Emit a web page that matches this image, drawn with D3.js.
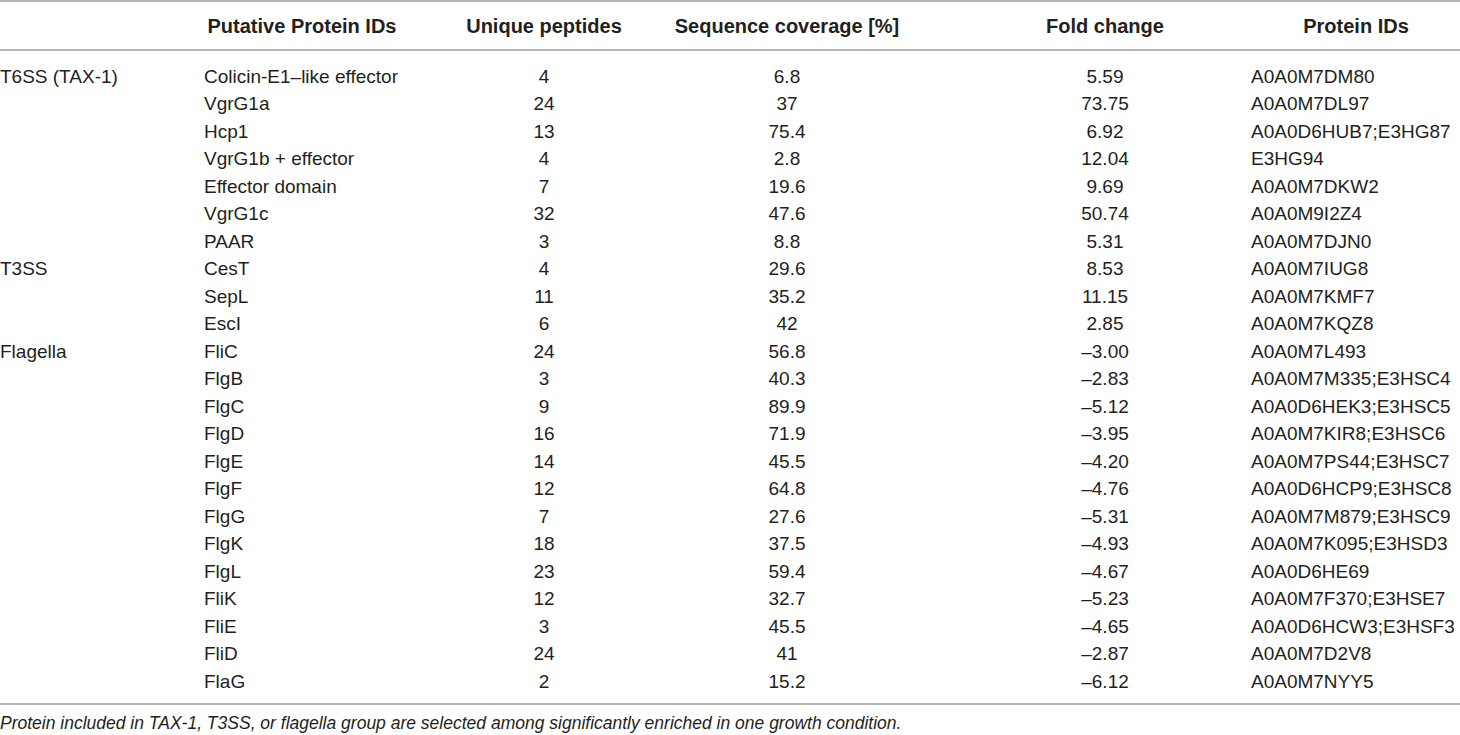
<!DOCTYPE html>
<html>
<head>
<meta charset="utf-8">
<script src="https://cdn.jsdelivr.net/npm/d3@7/dist/d3.min.js"></script>
<style>
  html, body { margin: 0; padding: 0; background: #fff; }
  svg { display: block; }
</style>
</head>
<body>
<svg id="table"></svg>
<script>
// ── Data ─────────────────────────────────────────────
const headers = ['', 'Putative Protein IDs', 'Unique peptides', 'Sequence coverage [%]', 'Fold change', 'Protein IDs'];

const groupLabels = ['T6SS (TAX-1)', 'T3SS', 'Flagella'];
const groupSizes  = [7, 3, 13];

const proteins = ['Colicin-E1\u2013like effector', 'VgrG1a', 'Hcp1', 'VgrG1b + effector', 'Effector domain',
  'VgrG1c', 'PAAR', 'CesT', 'SepL', 'EscI', 'FliC', 'FlgB', 'FlgC', 'FlgD', 'FlgE', 'FlgF', 'FlgG',
  'FlgK', 'FlgL', 'FliK', 'FliE', 'FliD', 'FlaG'];

const peptides = [4, 24, 13, 4, 7, 32, 3, 4, 11, 6, 24, 3, 9, 16, 14, 12, 7, 18, 23, 12, 3, 24, 2];

const coverage = ['6.8', '37', '75.4', '2.8', '19.6', '47.6', '8.8', '29.6', '35.2', '42', '56.8', '40.3',
  '89.9', '71.9', '45.5', '64.8', '27.6', '37.5', '59.4', '32.7', '45.5', '41', '15.2'];

const foldChange = [5.59, 73.75, 6.92, 12.04, 9.69, 50.74, 5.31, 8.53, 11.15, 2.85, -3.00, -2.83,
  -5.12, -3.95, -4.20, -4.76, -5.31, -4.93, -4.67, -5.23, -4.65, -2.87, -6.12];

const proteinIds = ['A0A0M7DM80', 'A0A0M7DL97', 'A0A0D6HUB7;E3HG87', 'E3HG94', 'A0A0M7DKW2', 'A0A0M9I2Z4',
  'A0A0M7DJN0', 'A0A0M7IUG8', 'A0A0M7KMF7', 'A0A0M7KQZ8', 'A0A0M7L493', 'A0A0M7M335;E3HSC4',
  'A0A0D6HEK3;E3HSC5', 'A0A0M7KIR8;E3HSC6', 'A0A0M7PS44;E3HSC7', 'A0A0D6HCP9;E3HSC8',
  'A0A0M7M879;E3HSC9', 'A0A0M7K095;E3HSD3', 'A0A0D6HE69', 'A0A0M7F370;E3HSE7',
  'A0A0D6HCW3;E3HSF3', 'A0A0M7D2V8', 'A0A0M7NYY5'];

const footnote = 'Protein included in TAX-1, T3SS, or flagella group are selected among significantly enriched in one growth condition.';

// ── Layout ───────────────────────────────────────────
const W = 1460, H = 735;
const FONT = '"Liberation Sans", Arial, Helvetica, sans-serif';
const INK  = '#231f20';
const RULE = '#9d9d9d';

// minus sign in the source is an en dash
const fmtFold = v => (v < 0 ? '\u2013' : '') + Math.abs(v).toFixed(2);

// group label sits on the first row of each group
const groupOfRow = [];
groupSizes.forEach((n, gi) => {
  for (let k = 0; k < n; k++) groupOfRow.push(k === 0 ? groupLabels[gi] : '');
});

const rows = proteins.map((p, i) => ({
  group: groupOfRow[i],
  protein: p,
  peptides: String(peptides[i]),
  coverage: coverage[i],
  fold: fmtFold(foldChange[i]),
  ids: proteinIds[i],
}));

const cols = ['group', 'protein', 'peptides', 'coverage', 'fold', 'ids'];

// header centres / body anchors per column
const headX  = d3.scaleOrdinal().domain(cols).range([0, 302, 544, 787, 1105, 1356]);
const bodyX  = d3.scaleOrdinal().domain(cols).range([0, 204, 544, 787, 1105, 1251]);
const anchor = d3.scaleOrdinal().domain(cols).range(['start', 'start', 'middle', 'middle', 'middle', 'start']);

const yRow = d3.scalePoint()
  .domain(d3.range(rows.length))
  .range([76, 681]);

const svg = d3.select('#table')
  .attr('width', W)
  .attr('height', H)
  .attr('font-family', FONT);

// ── Rules ────────────────────────────────────────────
[1, 50, 704].forEach(y => {
  svg.append('line')
    .attr('x1', 0).attr('x2', W)
    .attr('y1', y).attr('y2', y)
    .attr('stroke', RULE)
    .attr('stroke-width', 1.6);
});

// ── Header ───────────────────────────────────────────
svg.append('g')
  .selectAll('text')
  .data(cols)
  .join('text')
    .attr('x', c => headX(c))
    .attr('y', 26)
    .attr('dy', '0.35em')
    .attr('text-anchor', 'middle')
    .attr('font-weight', 'bold')
    .attr('font-size', 20)
    .attr('fill', INK)
    .text((c, i) => headers[i]);

// ── Body ─────────────────────────────────────────────
const rowG = svg.append('g')
  .selectAll('g')
  .data(rows)
  .join('g')
    .attr('transform', (d, i) => `translate(0,${yRow(i)})`);

rowG.selectAll('text')
  .data(d => cols.map(c => ({ c, v: d[c] })))
  .join('text')
    .attr('x', d => bodyX(d.c))
    .attr('dy', '0.35em')
    .attr('text-anchor', d => anchor(d.c))
    .attr('font-size', 19)
    .attr('fill', INK)
    .text(d => d.v);

// ── Footnote ─────────────────────────────────────────
svg.append('text')
  .attr('x', 0)
  .attr('y', 729)
  .attr('font-style', 'italic')
  .attr('font-size', 17.5)
  .attr('fill', INK)
  .text(footnote);
</script>
</body>
</html>
